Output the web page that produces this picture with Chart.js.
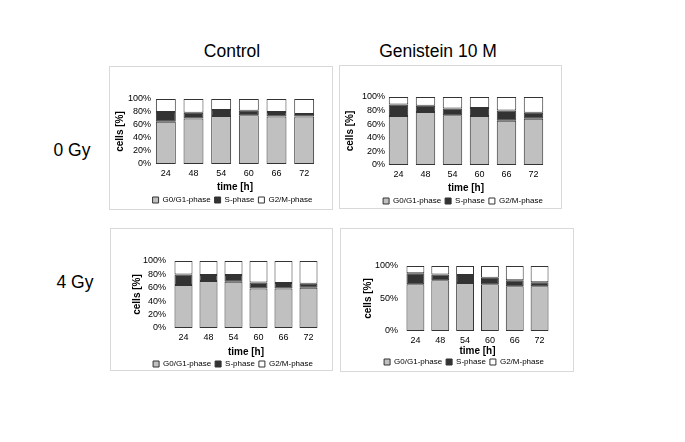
<!DOCTYPE html>
<html><head><meta charset="utf-8">
<script src="https://cdn.jsdelivr.net/npm/chart.js@4"></script>
<style>
html,body{margin:0;padding:0;background:#fff;}
body{width:685px;height:442px;position:relative;overflow:hidden;font-family:"Liberation Sans",Arial,sans-serif;}
.box{position:absolute;border:1px solid #d9d9d9;box-sizing:border-box;}
canvas{position:absolute;}
.lbl{position:absolute;transform:translate(-50%,-50%);font-size:17.5px;color:#000;white-space:nowrap;}
</style></head><body>
<div class="lbl" style="left:232px;top:51px">Control</div>
<div class="lbl" style="left:438px;top:51px">Genistein 10 M</div>
<div class="lbl" style="left:72px;top:150px">0 Gy</div>
<div class="lbl" style="left:75px;top:282px">4 Gy</div>
<div class="box" style="left:109px;top:66px;width:224px;height:144px"></div>
<div class="box" style="left:339px;top:65px;width:223px;height:144px"></div>
<div class="box" style="left:110px;top:228px;width:223px;height:143px"></div>
<div class="box" style="left:340px;top:228px;width:234px;height:144px"></div>
<canvas id="c1" width="247" height="148" style="left:109px;top:66px"></canvas>
<canvas id="c2" width="248" height="150" style="left:339px;top:65px"></canvas>
<canvas id="c3" width="246" height="150" style="left:110px;top:228px"></canvas>
<canvas id="c4" width="248" height="148" style="left:340px;top:228px"></canvas>
<script>
// ---- data ----
const hours = ['24', '48', '54', '60', '66', '72'];
const seriesNames = ['G0/G1-phase', 'S-phase', 'G2/M-phase'];

const control0G1  = [65, 70, 74, 75, 73, 73];
const control0S   = [15,  9,  9,  7,  7,  4];
const control0G2M = [20, 21, 17, 18, 20, 23];

const genistein0G1  = [72, 78, 73, 72, 65, 68];
const genistein0S   = [17,  9, 10, 12, 15,  9];
const genistein0G2M = [11, 13, 17, 16, 20, 23];

const control4G1  = [64, 70, 69, 59, 59, 60];
const control4S   = [16,  9, 10,  9,  8,  6];
const control4G2M = [20, 21, 21, 32, 33, 34];

const genistein4G1  = [72, 78, 74, 72, 69, 69];
const genistein4S   = [17,  9, 12, 10,  9,  6];
const genistein4G2M = [11, 13, 14, 18, 22, 25];

const yTicksFine = [0, 20, 40, 60, 80, 100];
const yTicksCoarse = [0, 50, 100];

// ---- drawing ----
Chart.defaults.font.family = '"Liberation Sans", Arial, sans-serif';
Chart.defaults.color = '#000';

function build(id, g1, s, g2m, yTickVals, geo) {
  const ds = (label, data, bg) => ({label, data, backgroundColor: bg, borderColor: '#333333', borderWidth: 1, borderSkipped: false});
  new Chart(document.getElementById(id), {
    type: 'bar',
    data: {labels: hours, datasets: [
      ds(seriesNames[0], g1, '#c0c0c0'),
      ds(seriesNames[1], s, '#333333'),
      ds(seriesNames[2], g2m, '#ffffff')
    ]},
    options: {
      responsive: false, animation: false, devicePixelRatio: 1,
      layout: {padding: 0},
      datasets: {bar: {categoryPercentage: 1, barPercentage: 0.72}},
      plugins: {
        legend: {position: 'bottom', labels: {boxWidth: 6, boxHeight: 6, padding: 4, color: '#000', font: {size: 8}}},
        tooltip: {enabled: false}
      },
      scales: {
        x: {
          stacked: true,
          grid: {display: false, drawTicks: false}, border: {display: false},
          ticks: {padding: 4, color: '#000', font: {size: 9}, maxRotation: 0, autoSkip: false},
          title: {display: true, text: 'time [h]', color: '#000', font: {size: 10, weight: 'bold'}, padding: {top: 0, bottom: geo.xTitlePadB}},
          afterFit: sc => { sc.height = geo.xH; }
        },
        y: {
          stacked: true, min: 0, max: 100,
          afterBuildTicks: sc => { sc.ticks = yTickVals.map(v => ({value: v})); },
          grid: {display: false, drawTicks: false}, border: {display: false},
          ticks: {padding: geo.yTickPad, color: '#000', font: {size: 9}, autoSkip: false, callback: v => v + '%'},
          title: {display: true, text: 'cells [%]', color: '#000', font: {size: 10, weight: 'bold'}, padding: {top: geo.yTitlePadT, bottom: 0}},
          afterFit: sc => { sc.width = geo.yW; }
        },
        // blank spacer on the right so the legend stays centred on the full canvas
        spacer: {
          type: 'linear', position: 'right', min: 0, max: 1,
          grid: {display: false, drawTicks: false}, border: {display: false},
          ticks: {display: false},
          afterFit: sc => { sc.width = geo.padRight; }
        }
      }
    },
    plugins: [{
      id: 'topgap',
      beforeInit(chart) { chart.options.layout.padding = {top: geo.padTop, left: 0, right: 0, bottom: 0}; }
    }]
  });
}

build('c1', control0G1, control0S, control0G2M, yTicksFine,
  {padTop: 33, padRight: 38, yW: 43, xH: 28, xTitlePadB: -1, yTitlePadT: 5, yTickPad: 1});
build('c2', genistein0G1, genistein0S, genistein0G2M, yTicksFine,
  {padTop: 32, padRight: 40, yW: 46, xH: 28, xTitlePadB: -1, yTitlePadT: 5, yTickPad: 0});
build('c3', control4G1, control4S, control4G2M, yTicksFine,
  {padTop: 33, padRight: 35, yW: 61, xH: 28, xTitlePadB: -2, yTitlePadT: 21, yTickPad: 5});
build('c4', genistein4G1, genistein4S, genistein4G2M, yTicksCoarse,
  {padTop: 38, padRight: 36, yW: 63, xH: 23, xTitlePadB: -3, yTitlePadT: 22, yTickPad: 5});
</script>
</body></html>
